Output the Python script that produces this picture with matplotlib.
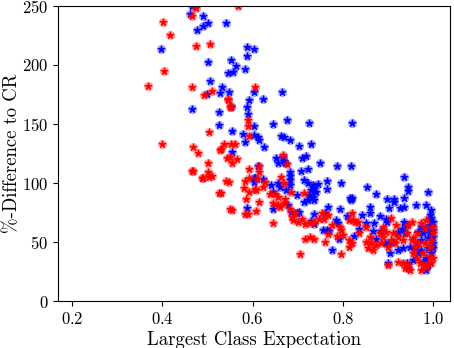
import matplotlib
matplotlib.use("Agg")
import matplotlib.pyplot as plt

plt.rcParams['font.family'] = 'serif'
plt.rcParams['font.serif'] = ['cmr10']
plt.rcParams['mathtext.fontset'] = 'cm'
plt.rcParams['axes.formatter.use_mathtext'] = True

# blue series (largest class expectation, %-difference)
blue_x = [0.465, 0.462, 0.489, 0.491, 0.502, 0.542, 0.477, 0.398, 0.588, 0.603,
          0.588, 0.551, 0.564, 0.583, 0.545, 0.556, 0.500, 0.505, 0.533, 0.548,
          0.527, 0.498, 0.591, 0.588, 0.590, 0.551, 0.465, 0.526, 0.525, 0.554,
          0.579, 0.603, 0.603, 0.583, 0.554, 0.603, 0.664, 0.622, 0.675, 0.724,
          0.644, 0.611, 0.614, 0.662, 0.670, 0.682, 0.625, 0.703, 0.729, 0.820,
          0.652, 0.656, 0.668, 0.670, 0.671, 0.709, 0.719, 0.749, 0.786, 0.817,
          0.611, 0.683, 0.683, 0.707, 0.722, 0.605, 0.622, 0.603, 0.640, 0.656,
          0.661, 0.644, 0.674, 0.683, 0.683, 0.714, 0.722, 0.733, 0.744, 0.736,
          0.740, 0.729, 0.725, 0.733, 0.736, 0.722, 0.714, 0.699, 0.764, 0.764,
          0.796, 0.815, 0.818, 0.679, 0.685, 0.699, 0.703, 0.644, 0.768, 0.794,
          0.808, 0.736, 0.729, 0.736, 0.760, 0.785, 0.790, 0.755, 0.765, 0.770,
          0.792, 0.775, 0.588, 0.603, 0.935, 0.944, 0.944, 0.854, 0.873, 0.821,
          0.898, 0.913, 0.913, 0.935, 0.989, 0.961, 0.983, 0.860, 0.860, 0.842,
          0.882, 0.902, 0.926, 0.935, 0.824, 0.850, 0.868, 0.835, 0.867, 0.884,
          0.896, 0.898, 0.935, 0.939, 0.874, 0.893, 0.900, 0.911, 0.922, 0.931,
          0.937, 0.904, 0.900, 0.922, 0.941, 0.944, 0.955, 0.992, 0.996, 0.999,
          0.992, 0.985, 0.974, 0.966, 0.977, 0.992, 1.000, 1.000, 0.988, 0.974,
          0.963, 0.959, 0.974, 0.988, 1.000, 1.000, 0.996, 0.985, 0.977, 0.988,
          0.985, 0.966, 0.948, 0.933, 0.995]
blue_y = [250, 243, 241, 233, 235, 235, 229, 213.5, 215, 213,
          207, 204, 199, 196, 193, 194, 202.5, 186, 181, 177,
          176, 175, 170, 164, 158.5, 164.5, 163, 160, 149, 144,
          141.5, 148, 140.5, 135, 126.5, 177, 177, 171, 153, 151,
          150, 139, 136, 140, 139, 136, 130.5, 131.6, 133, 151,
          121, 116.7, 122.3, 118.6, 117, 121.5, 123, 117, 114, 114.5,
          114, 109, 106, 110, 112, 104.5, 103, 101, 98, 100,
          96.3, 92.6, 94, 98.3, 102.5, 102.5, 99.7, 98.3, 98.9, 95.5,
          92.6, 94, 89.8, 88.4, 85.6, 85.6, 84, 89.8, 102, 95,
          99.7, 87, 85.6, 81.4, 75.7, 74.3, 75.7, 77.7, 80, 77.7,
          72.3, 73.7, 68, 65.8, 74.3, 68.6, 66.4, 60.2, 60.7, 59.3,
          52.3, 43.2, 79, 104.5, 105.4, 97, 93.6, 96.4, 91, 87.2,
          86.6, 86.6, 84.3, 87.2, 92.7, 81.2, 81.5, 79.6, 74.5, 73,
          72.5, 78.7, 78.7, 80, 55.3, 66, 66, 61, 59.5, 59.5,
          69.7, 66.9, 67.4, 64.6, 52.5, 49.2, 48.6, 50, 59, 61,
          57.6, 40.7, 32.3, 43.5, 32.3, 28, 35, 73, 70.3, 67.4,
          64.6, 61.8, 63.2, 59, 57.6, 57.6, 60.4, 54.7, 53.4, 52,
          49.2, 45, 43.5, 45, 49.2, 45, 40.7, 36.5, 33.6, 30.8,
          26.6, 40.7, 46.3, 45, 77]

# red series
red_x = [0.402, 0.416, 0.474, 0.506, 0.404, 0.368, 0.466, 0.510, 0.493, 0.546,
         0.553, 0.550, 0.504, 0.400, 0.467, 0.529, 0.536, 0.553, 0.561, 0.592,
         0.589, 0.589, 0.479, 0.474, 0.466, 0.567, 0.605, 0.527, 0.502, 0.544,
         0.555, 0.566, 0.468, 0.502, 0.509, 0.491, 0.547, 0.529, 0.592, 0.584,
         0.592, 0.581, 0.592, 0.605, 0.585, 0.555, 0.590, 0.607, 0.545, 0.550,
         0.615, 0.668, 0.677, 0.614, 0.609, 0.627, 0.624, 0.607, 0.663, 0.670,
         0.685, 0.614, 0.646, 0.646, 0.656, 0.661, 0.672, 0.670, 0.683, 0.694,
         0.687, 0.690, 0.709, 0.701, 0.716, 0.727, 0.735, 0.746, 0.757, 0.768,
         0.753, 0.776, 0.768, 0.716, 0.727, 0.735, 0.761, 0.796, 0.787, 0.813,
         0.801, 0.813, 0.794, 0.705, 0.796, 0.813, 0.713, 0.650, 0.657, 0.638,
         0.487, 0.504, 0.525, 0.542, 0.465, 0.550, 0.584, 0.819, 0.823, 0.826,
         0.819, 0.836, 0.852, 0.860, 0.852, 0.863, 0.867, 0.856, 0.874, 0.885,
         0.889, 0.882, 0.896, 0.911, 0.907, 0.900, 0.915, 0.922, 0.900, 0.922,
         0.933, 0.944, 0.937, 0.948, 0.955, 0.963, 0.970, 0.959, 0.952, 0.966,
         0.974, 0.981, 0.963, 0.955, 0.941, 0.933, 0.944, 0.952, 0.981, 0.992,
         0.977, 0.992, 0.981, 0.996, 1.000, 0.974, 0.985, 0.985, 1.000, 1.000,
         0.996, 0.907, 0.918, 0.889, 0.834]
red_y = [236, 225, 216, 217.5, 195, 182, 181, 178, 174, 171,
         165, 164, 143.5, 133, 130.5, 129, 133, 133, 133, 140,
         153, 148, 125, 248, 241, 250, 181, 128, 117, 121.5,
         116.7, 120, 110, 109.6, 106, 104.5, 101, 92, 112, 102,
         104.5, 96, 92.6, 94.6, 86.4, 77, 73.5, 76, 170, 122,
         109.6, 123.7, 116, 114.4, 103, 101, 96.9, 94, 104.8, 99.7,
         92.6, 84, 82.8, 66.4, 81.4, 79.4, 86.2, 82.8, 77.7, 74.3,
         71.4, 68.6, 70, 67.2, 65.8, 66.4, 67.2, 70, 69.2, 72.9,
         74.3, 64.4, 57.3, 53.1, 54, 52.3, 50.3, 60.2, 55.1, 51.7,
         55.9, 68.6, 63, 39.8, 39.8, 46, 91.2, 91, 88.4, 91,
         104, 105.4, 91.6, 101.5, 110, 78, 74, 74.5, 68.8, 67.4,
         49.2, 57.6, 63.2, 54.7, 50.5, 49.2, 43.5, 45, 47.7, 49.2,
         54.7, 57.6, 59, 57.6, 52, 46.3, 49.2, 54.7, 30.8, 33.6,
         32.3, 30.8, 28, 26.6, 40.7, 36.5, 32.3, 46.3, 52, 49.2,
         66, 61.8, 57.6, 53.4, 57.6, 52, 64.6, 67.4, 49.2, 46.3,
         40.7, 37.8, 30.8, 32.3, 36.5, 26.6, 29.4, 68.8, 63.2, 57.6,
         52, 70.3, 64.6, 63.2, 67.4]

fig = plt.figure(figsize=(4.54, 3.48), dpi=100)
ax = fig.add_axes([0.128, 0.134, 0.864, 0.850])

# soft round halo plus a solid star on top
for xs, ys, c in [(blue_x, blue_y, 'blue'), (red_x, red_y, 'red')]:
    ax.scatter(xs, ys, s=44, marker='o', color=c, alpha=0.35, linewidths=0)
    ax.scatter(xs, ys, s=30, marker='*', color=c, linewidths=0.6, edgecolors=c)

ax.set_xlim(0.169, 1.038)
ax.set_ylim(0, 250)
ax.set_xticks([0.2, 0.4, 0.6, 0.8, 1.0])
ax.set_yticks([0, 50, 100, 150, 200, 250])
ax.tick_params(labelsize=12)
ax.set_xlabel('Largest Class Expectation', fontsize=13.5, labelpad=3)
ax.set_ylabel('%-Difference to CR', fontsize=13.5)
ax.yaxis.set_label_coords(-0.093, 0.5)

fig.savefig('out.png', dpi=100)
